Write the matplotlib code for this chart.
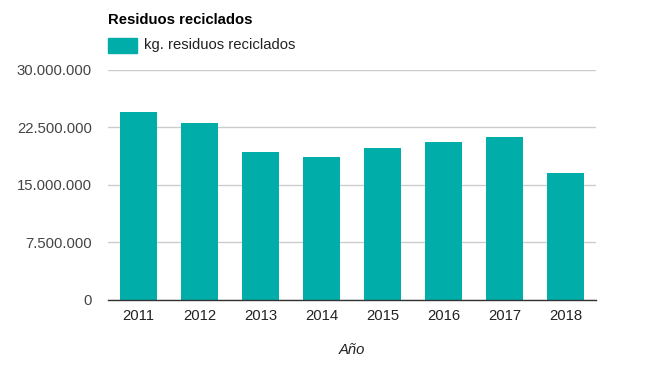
import matplotlib.pyplot as plt
from matplotlib.patches import Rectangle
from matplotlib.ticker import FuncFormatter

years = ['2011', '2012', '2013', '2014', '2015', '2016', '2017', '2018']
kg_reciclados = [24500000, 23060000, 19270000, 18620000, 19800000, 20580000, 21230000, 16530000]
y_ticks = [0, 7500000, 15000000, 22500000, 30000000]

teal = '#00ADA9'
plt.rcParams['font.family'] = ['Liberation Sans', 'DejaVu Sans']
fs = 10.7

fig = plt.figure(figsize=(6.49, 3.75), dpi=100)
ax = fig.add_axes([108 / 649, 1 - 299.5 / 375, 488 / 649, 229.6 / 375])

ax.bar(years, kg_reciclados, width=0.62, color=teal, zorder=3)
ax.set_xlim(-0.5, len(years) - 0.5)
ax.set_ylim(0, 30000000)
ax.set_yticks(y_ticks)
ax.yaxis.set_major_formatter(FuncFormatter(lambda v, p: f'{int(v):,}'.replace(',', '.')))
ax.grid(axis='y', color='#cccccc', linewidth=1, zorder=0)
ax.tick_params(axis='y', length=0, pad=11.5, labelsize=fs, labelcolor='#444444')
ax.tick_params(axis='x', length=0, pad=6.5, labelsize=fs, labelcolor='#222222')
for s in ['top', 'right', 'left']:
    ax.spines[s].set_visible(False)
ax.spines['bottom'].set_color('#333333')
ax.spines['bottom'].set_linewidth(1)
ax.spines['bottom'].set_zorder(4)

ax.set_xlabel('Año', fontstyle='italic', fontsize=fs, color='#222222', labelpad=15)

fig.text(108 / 649, 1 - 20 / 375, 'Residuos reciclados', fontsize=fs, fontweight='bold',
         color='#000000', va='center', ha='left')
fig.patches.append(Rectangle((108 / 649, 1 - 52.7 / 375), 29 / 649, 14.4 / 375,
                             transform=fig.transFigure, color=teal, figure=fig))
fig.text(144 / 649, 1 - 45.5 / 375, 'kg. residuos reciclados', fontsize=fs,
         color='#222222', va='center', ha='left')

fig.savefig('out.png', dpi=100)
